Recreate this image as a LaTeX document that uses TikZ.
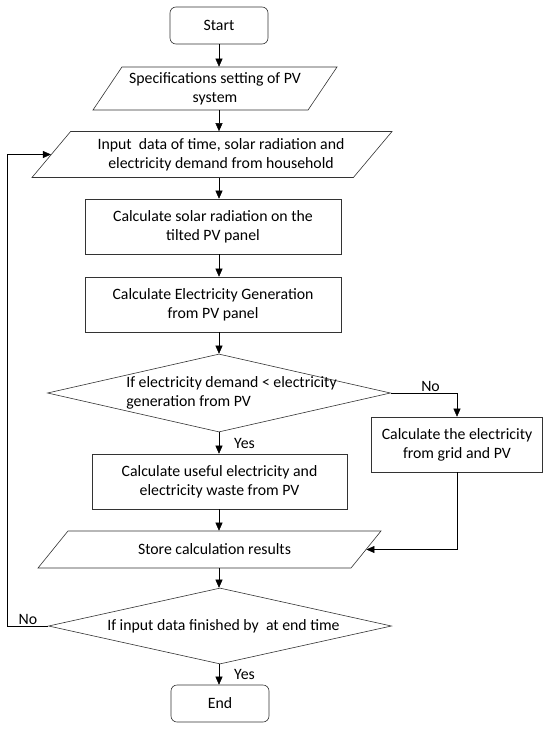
\documentclass[tikz,border=0pt]{standalone}
\usepackage{fontspec}
\setmainfont{Carlito}
\usetikzlibrary{shapes.geometric,arrows.meta}
\tikzset{
  base/.style={draw=black!80, line width=0.6pt, align=center, inner sep=1pt,
    font=\fontsize{15.8}{19}\selectfont},
  terminal/.style={base, rectangle, rounded corners=6pt, minimum width=98pt, minimum height=37pt},
  process/.style={base, rectangle},
  io/.style={base, trapezium, trapezium stretches body},
  iobox/.style={io, inner sep=0pt, text height=#1, text depth=#1},
  decision/.style={base, diamond, minimum width=343pt},
  lbl/.style={inner sep=0pt, font=\fontsize{15.8}{19}\selectfont},
}
\begin{document}
\begin{tikzpicture}[x=1pt, y=-1pt, >={Triangle[width=7pt,length=8pt]}]
      \useasboundingbox (0,0) rectangle (550,730);
      \draw
        (219,25.5) node[terminal] (start){Start}
        (215,88.5) node[io, trapezium left angle=50, trapezium right angle=130,
          minimum width=244pt, minimum height=43pt] (spec){Specifications setting of PV\\system}
        (212,154.5) node[iobox=23pt, trapezium left angle=50, trapezium right angle=130,
          minimum width=360pt,
          label={[lbl, align=center, xshift=9pt]center:Input~ data of time, solar radiation and\\electricity demand from household}] (input){}
        (213,226.5) node[process, minimum width=256pt, minimum height=55pt] (solar){Calculate solar radiation on the\\tilted PV panel}
        (213,304.5) node[process, minimum width=256pt, minimum height=55pt] (gen){Calculate Electricity Generation\\from PV panel}
        (219,393) node[decision, minimum height=78pt,
          label={[lbl, align=left, xshift=12.5pt]center:If electricity demand < electricity\\generation from PV}] (cond){}
        (457,444.5) node[process, minimum width=171pt, minimum height=55pt] (grid){Calculate the electricity\\from grid and PV}
        (219.5,481.5) node[process, minimum width=255pt, minimum height=55pt] (useful){Calculate useful electricity and\\electricity waste from PV}
        (209.5,549.5) node[iobox=18.5pt, trapezium left angle=51, trapezium right angle=129,
          minimum width=343pt,
          label={[lbl, xshift=5pt]center:Store calculation results}] (store){}
        (220,626) node[decision, minimum height=76pt,
          label={[lbl, xshift=3.5pt]center:If input data finished by~ at end time}] (check){}
        (220,703.5) node[terminal] (end){End};
      \coordinate (back) at (7.5,0);
      \begin{scope}[->, black]
        \draw (start.south) to (start.south |- spec.north);
        \draw (spec.south -| start) to (input.north -| start);
        \draw (input.south -| start) to (solar.north -| start);
        \draw (solar.south -| start) to (gen.north -| start);
        \draw (gen.south -| start) to (cond.north -| start);
        \draw (cond.south -| start) to node[lbl, right=15pt]{Yes} (useful.north -| start);
        \draw (cond.east) -| node[lbl, pos=0.3, above=1.5pt]{No} (grid.north);
        \draw (useful.south -| start) to (store.north -| start);
        \draw (grid.south) |- (store.east);
        \draw (store.south -| start) to (check.north -| start);
        \draw (check.south -| start) to node[lbl, right=15pt]{Yes} (end.north -| start);
        \draw (check.west) -- node[lbl, above=1.5pt]{No} (check.west -| back) |- (input.west);
      \end{scope}
    \end{tikzpicture}
\end{document}
